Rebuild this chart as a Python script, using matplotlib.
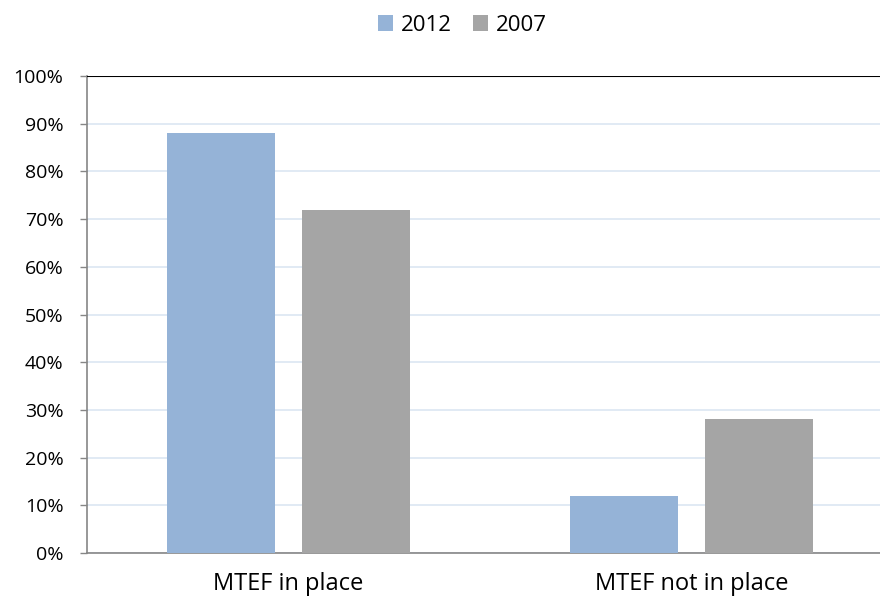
import matplotlib
matplotlib.use("Agg")
import matplotlib.pyplot as plt
import numpy as np
from matplotlib.ticker import PercentFormatter

categories = ["MTEF in place", "MTEF not in place"]
series_names = ["2012", "2007"]
values_2012 = [88, 12]
values_2007 = [72, 28]
y_ticks = [0, 10, 20, 30, 40, 50, 60, 70, 80, 90, 100]

plt.rcParams['font.family'] = ['Open Sans', 'DejaVu Sans']

fig = plt.figure(figsize=(8.8, 6), dpi=100)
ax = fig.add_axes([0.0989, 0.0783, 0.9011, 0.795])

x = np.arange(len(categories))
w = 0.268
off = 0.167
b1 = ax.bar(x - off, values_2012, w, color='#95B3D7', label=series_names[0], zorder=3)
b2 = ax.bar(x + off, values_2007, w, color='#A5A5A5', label=series_names[1], zorder=3)

ax.set_xlim(-0.5, 1.468)
ax.set_ylim(0, 100)
ax.set_yticks(y_ticks)
ax.yaxis.set_major_formatter(PercentFormatter(decimals=0))
ax.set_xticks(x)
ax.set_xticklabels(categories, fontsize=17)
ax.tick_params(axis='x', length=0, pad=14)
ax.tick_params(axis='y', length=5, width=1, color='#868686', labelsize=14, pad=12)

ax.grid(axis='y', color='#DCE6F2', linewidth=1.2, zorder=0)
ax.axhline(100, color='black', linewidth=1.5, zorder=4)
for s in ['top', 'right']:
    ax.spines[s].set_visible(False)
ax.spines['left'].set_color('#868686')
ax.spines['bottom'].set_color('#868686')
ax.spines['left'].set_linewidth(1.2)
ax.spines['bottom'].set_linewidth(1.2)

fig.legend(handles=[b1, b2], labels=series_names, loc='center', bbox_to_anchor=(0.525, 0.958),
           ncol=2, frameon=False, fontsize=16, handlelength=0.68, handleheight=0.68,
           handletextpad=0.35, columnspacing=0.95)

fig.savefig("out.png", dpi=100)
